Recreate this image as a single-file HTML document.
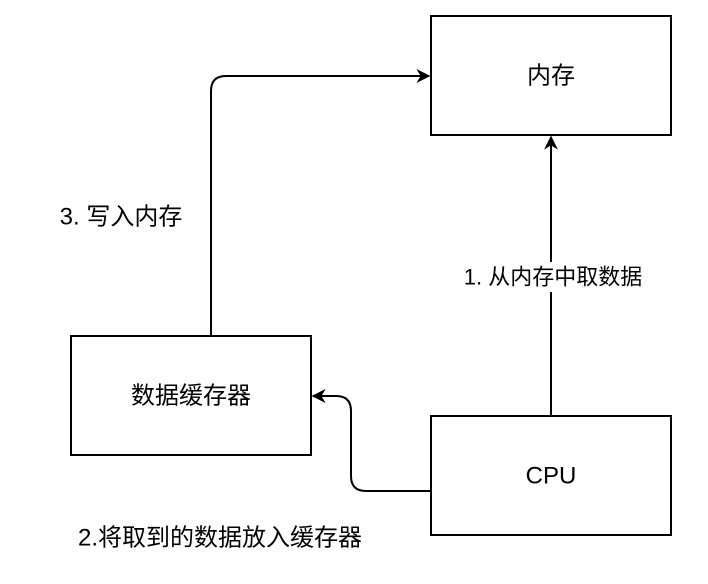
<html><body style="margin:0;width:708px;height:584px;background:#fff;overflow:hidden">
<svg width="708" height="584" xmlns="http://www.w3.org/2000/svg" style="font-family:'Liberation Sans','Noto Sans CJK SC',sans-serif">
<defs><marker id="a" viewBox="0 0 10 10" refX="9" refY="5" markerWidth="14" markerHeight="14" markerUnits="userSpaceOnUse" orient="auto"><path d="M0,0 L10,5 L0,10 L3,5 Z" fill="#000"/></marker></defs>
<g fill="#fff" stroke="#000" stroke-width="2">
<rect x="431" y="16" width="240" height="119"/>
<rect x="71" y="336" width="240" height="119"/>
<rect x="431" y="416" width="240" height="119"/>
</g>
<g fill="none" stroke="#000" stroke-width="2">
<path d="M551,416 V137" marker-end="url(#a)"/>
<path d="M431,491 H366 Q351,491 351,476 V411 Q351,396 336,396 H313" marker-end="url(#a)"/>
<path d="M211,336 V91 Q211,76 226,76 H429" marker-end="url(#a)"/>
</g>
<rect x="460" y="262" width="186" height="30" fill="#fff"/>
<g font-size="24" text-anchor="middle" dominant-baseline="central">
<text x="551" y="76">内存</text>
<text x="191" y="396">数据缓存器</text>
<text x="551" y="476">CPU</text>
<text x="553" y="277" font-size="22">1. 从内存中取数据</text>
<text x="121" y="217" font-size="24">3. 写入内存</text>
<text x="220" y="538" font-size="24">2.将取到的数据放入缓存器</text>
</g>
</svg></body></html>
